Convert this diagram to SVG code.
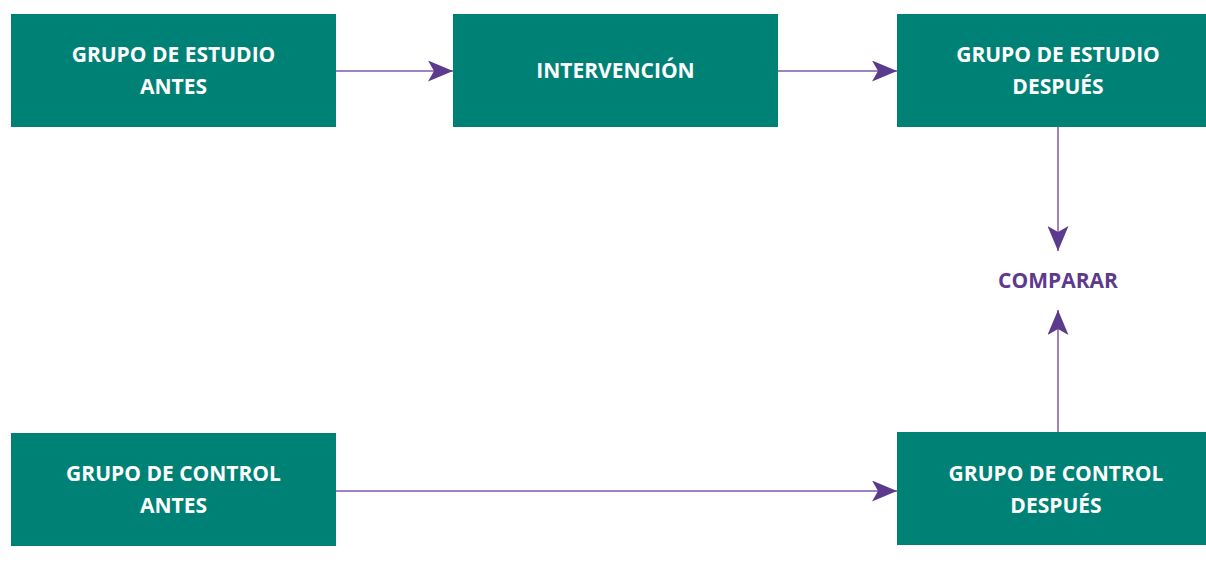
<svg xmlns="http://www.w3.org/2000/svg" width="1206" height="567" viewBox="0 0 1206 567">
<style>
.box{fill:#008176}
.lbl{font-family:"Open Sans","Liberation Sans",sans-serif;font-weight:700;font-size:21px;fill:#ffffff;text-anchor:middle}
.cmp{font-family:"Open Sans","Liberation Sans",sans-serif;font-weight:700;font-size:21px;fill:#5c3a8e;text-anchor:middle}
.edge{stroke:#7d5aae;stroke-width:1.5;fill:none}
</style>
<defs>
<marker id="ah" viewBox="0 0 25 21" refX="25" refY="10.5" markerWidth="25" markerHeight="21" markerUnits="userSpaceOnUse" orient="auto">
<path d="M0,0 L25,10.5 L0,21 L6,10.5 Z" fill="#5c3a8e"/>
</marker>
</defs>
<rect width="1206" height="567" fill="#ffffff"/>
<g id="connectors">
<line class="edge" x1="336" y1="71" x2="453" y2="71" marker-end="url(#ah)"/>
<line class="edge" x1="778" y1="71" x2="897" y2="71" marker-end="url(#ah)"/>
<line class="edge" x1="1058" y1="127" x2="1058" y2="251" marker-end="url(#ah)"/>
<line class="edge" x1="1058" y1="432" x2="1058" y2="310" marker-end="url(#ah)"/>
<line class="edge" x1="336" y1="491" x2="897" y2="491" marker-end="url(#ah)"/>
</g>
<g id="estudio-antes">
<rect class="box" x="11" y="14" width="325" height="113"/>
<text class="lbl" x="173.5" y="62">GRUPO DE ESTUDIO</text>
<text class="lbl" x="173.5" y="94">ANTES</text>
</g>
<g id="intervencion">
<rect class="box" x="453" y="14" width="325" height="113"/>
<text class="lbl" x="615.5" y="78">INTERVENCIÓN</text>
</g>
<g id="estudio-despues">
<rect class="box" x="897" y="14" width="309" height="113"/>
<text class="lbl" x="1058" y="62">GRUPO DE ESTUDIO</text>
<text class="lbl" x="1058" y="94">DESPUÉS</text>
</g>
<g id="comparar">
<text class="cmp" x="1058" y="288">COMPARAR</text>
</g>
<g id="control-antes">
<rect class="box" x="11" y="433" width="325" height="113"/>
<text class="lbl" x="173.5" y="481">GRUPO DE CONTROL</text>
<text class="lbl" x="173.5" y="513">ANTES</text>
</g>
<g id="control-despues">
<rect class="box" x="897" y="432" width="309" height="113"/>
<text class="lbl" x="1056" y="481">GRUPO DE CONTROL</text>
<text class="lbl" x="1056" y="513">DESPUÉS</text>
</g>
</svg>
